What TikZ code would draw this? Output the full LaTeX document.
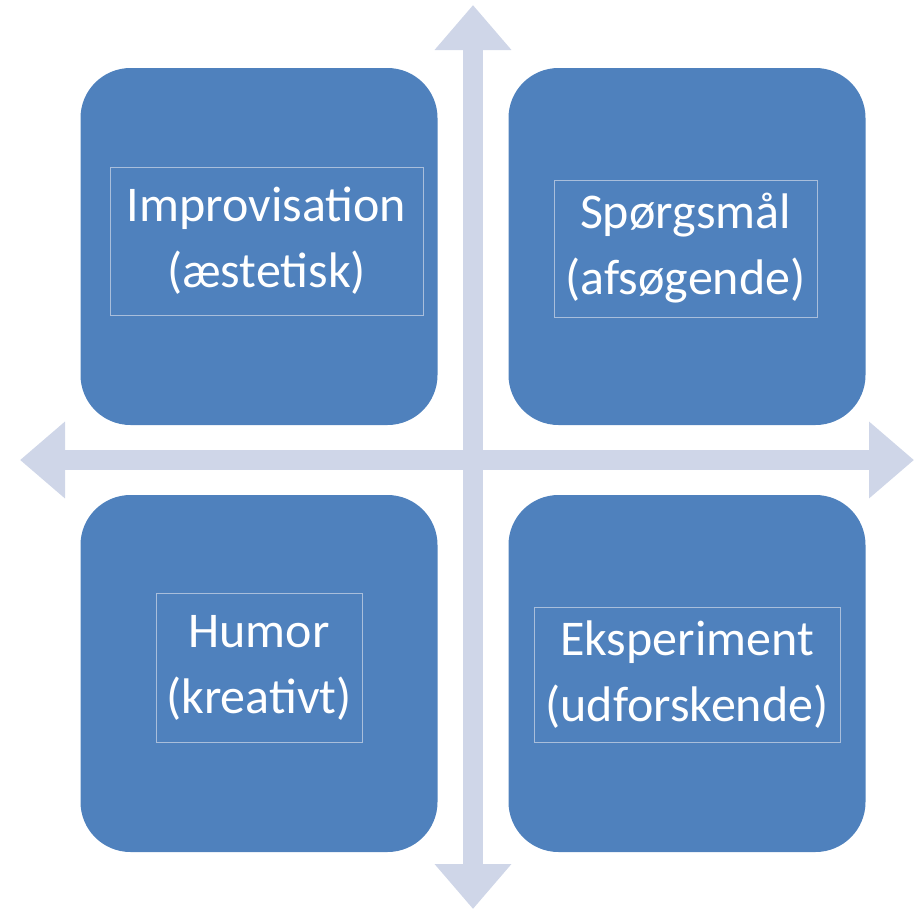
\documentclass[tikz,border=0pt]{standalone}
\usepackage{fontspec}
\setmainfont{Carlito}
\usetikzlibrary{arrows.meta}
\definecolor{boxblue}{HTML}{4F81BD}
\definecolor{axisgray}{HTML}{CFD6E8}
\definecolor{innerline}{HTML}{A9BEDB}
\begin{document}
\begin{tikzpicture}[x=1pt,y=-1pt,
  quad/.style={rectangle, fill=boxblue, rounded corners=50pt, minimum width=357pt, minimum height=357pt, inner sep=0pt},
  labelbox/.style={rectangle, draw=innerline, line width=0.8pt, text=white, align=center, font=\fontsize{50}{66}\selectfont, inner sep=0pt},
  axis/.style={draw=axisgray, line width=20pt, {Triangle[length=45pt,width=74pt]}-{Triangle[length=45pt,width=74pt]}}]
\useasboundingbox (0,0) rectangle (916,911);
\coordinate (top) at (473,5);
\coordinate (bottom) at (473,909);
\coordinate (left) at (20,460);
\coordinate (right) at (914,460);
\draw[axis] (top) -- (bottom);
\draw[axis] (left) -- (right);
\node[quad] (tl) at (259,246.5) {};
\node[quad] (tr) at (687,246.5) {};
\node[quad] (bl) at (259,673.5) {};
\node[quad] (br) at (687,673.5) {};
\node[labelbox, minimum width=313pt, minimum height=148pt] (tltext) at (266.5,241) {Improvisation\\(æstetisk)};
\node[labelbox, minimum width=263pt, minimum height=137pt] (trtext) at (685.5,248.5) {Spørgsmål\\(afsøgende)};
\node[labelbox, minimum width=206pt, minimum height=149pt] (bltext) at (259,667.5) {Humor\\(kreativt)};
\node[labelbox, minimum width=306pt, minimum height=135pt] (brtext) at (687,674.5) {Eksperiment\\(udforskende)};
\end{tikzpicture}
\end{document}
